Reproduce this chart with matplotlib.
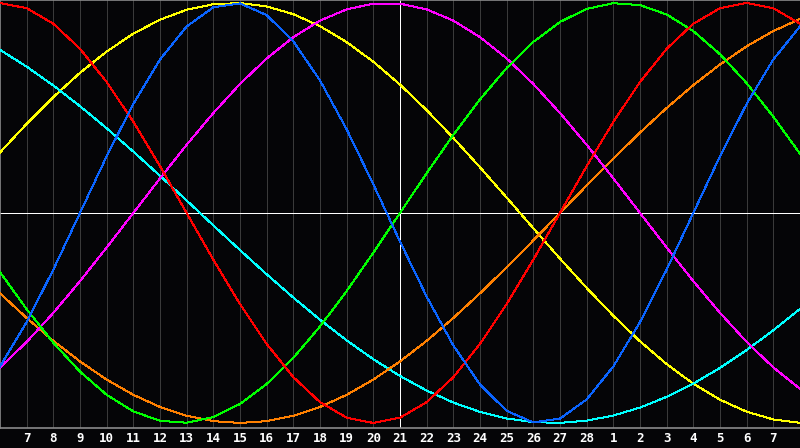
import numpy as np
import matplotlib
matplotlib.use("Agg")
import matplotlib.pyplot as plt

# day labels under the grid (Feb 7 .. Mar 7), today = 21
day_labels = [str(d) for d in range(7, 29)] + [str(d) for d in range(1, 8)]
today_index = 15

# cycle values, one per day from Feb 6 to Mar 8
physical = [-0.7308, -0.5196, -0.2698, 0.0, 0.2698, 0.5196, 0.7308, 0.8880, 0.9791, 0.9977,
            0.9423, 0.8170, 0.6311, 0.3984, 0.1362, -0.1362, -0.3984, -0.6311, -0.8170, -0.9423,
            -0.9977, -0.9791, -0.8880, -0.7308, -0.5196, -0.2698, 0.0, 0.2698, 0.5196, 0.7308, 0.8880]
emotional = [1.0, 0.9749, 0.9010, 0.7818, 0.6235, 0.4339, 0.2225, 0.0, -0.2225, -0.4339,
             -0.6235, -0.7818, -0.9010, -0.9749, -1.0, -0.9749, -0.9010, -0.7818, -0.6235, -0.4339,
             -0.2225, 0.0, 0.2225, 0.4339, 0.6235, 0.7818, 0.9010, 0.9749, 1.0, 0.9749, 0.9010]
intellectual = [-0.2817, -0.4582, -0.6182, -0.7557, -0.8660, -0.9450, -0.9898, -0.9989, -0.9718, -0.9096,
                -0.8146, -0.6901, -0.5406, -0.3717, -0.1893, 0.0, 0.1893, 0.3717, 0.5406, 0.6901,
                0.8146, 0.9096, 0.9718, 0.9989, 0.9898, 0.9450, 0.8660, 0.7557, 0.6182, 0.4582, 0.2817]
intuitive = [-0.7357, -0.6142, -0.4759, -0.3247, -0.1646, 0.0, 0.1646, 0.3247, 0.4759, 0.6142,
             0.7357, 0.8372, 0.9158, 0.9694, 0.9966, 0.9966, 0.9694, 0.9158, 0.8372, 0.7357,
             0.6142, 0.4759, 0.3247, 0.1646, 0.0, -0.1646, -0.3247, -0.4759, -0.6142, -0.7357, -0.8372]
aesthetic = [0.2881, 0.4245, 0.5518, 0.6673, 0.7687, 0.8536, 0.9203, 0.9675, 0.9940, 0.9993,
             0.9834, 0.9464, 0.8893, 0.8133, 0.7199, 0.6112, 0.4894, 0.3572, 0.2174, 0.0730,
             -0.0730, -0.2174, -0.3572, -0.4894, -0.6112, -0.7199, -0.8133, -0.8893, -0.9464, -0.9834, -0.9993]
awareness = [-0.3827, -0.5, -0.6088, -0.7071, -0.7934, -0.8660, -0.9239, -0.9659, -0.9914, -1.0,
             -0.9914, -0.9659, -0.9239, -0.8660, -0.7934, -0.7071, -0.6088, -0.5, -0.3827, -0.2588,
             -0.1305, 0.0, 0.1305, 0.2588, 0.3827, 0.5, 0.6088, 0.7071, 0.7934, 0.8660, 0.9239]
spiritual = [0.7765, 0.6966, 0.6068, 0.5085, 0.4031, 0.2921, 0.1769, 0.0592, -0.0592, -0.1769,
             -0.2921, -0.4031, -0.5085, -0.6068, -0.6966, -0.7765, -0.8456, -0.9028, -0.9473, -0.9786,
             -0.9961, -0.9996, -0.9890, -0.9646, -0.9267, -0.8757, -0.8125, -0.7378, -0.6528, -0.5586, -0.4566]

cycles = [
    (aesthetic, '#ffff00'),
    (spiritual, '#00ffff'),
    (awareness, '#ff8000'),
    (intuitive, '#ff00ff'),
    (intellectual, '#00ff00'),
    (emotional, '#ff0000'),
    (physical, '#0a64ff'),
]

px = 0.72  # one pixel at 100 dpi

fig = plt.figure(figsize=(8, 4.48), dpi=100, facecolor='#050507')
ax = fig.add_axes([0, 20 / 448, 1, 428 / 448], facecolor='#050507')

days = np.arange(len(physical))
ax.set_xlim(0, len(physical) - 1)
ax.set_ylim(-1.024, 1.014)

# day grid
ticks = np.arange(1, len(day_labels) + 1)
ax.set_xticks(ticks)
ax.set_xticklabels(day_labels, color='white', fontsize=9, fontweight='bold',
                   family='DejaVu Sans Mono')
ax.set_yticks([])
ax.tick_params(axis='x', length=0, pad=3)
for t in ticks:
    ax.axvline(t, color='#3a3a3a', lw=px, antialiased=False, zorder=1)

ax.axvline(today_index, color='white', lw=px, antialiased=False, zorder=2)
ax.axhline(0, color='white', lw=px, antialiased=False, zorder=2)

for vals, col in cycles:
    ax.plot(days, vals, color=col, lw=px, antialiased=False, zorder=3)

for side in ['top', 'left', 'bottom']:
    ax.spines[side].set_color('#8a8a8a')
    ax.spines[side].set_linewidth(1.2)
ax.spines['right'].set_visible(False)

fig.savefig('out.png', dpi=100, facecolor=fig.get_facecolor())
